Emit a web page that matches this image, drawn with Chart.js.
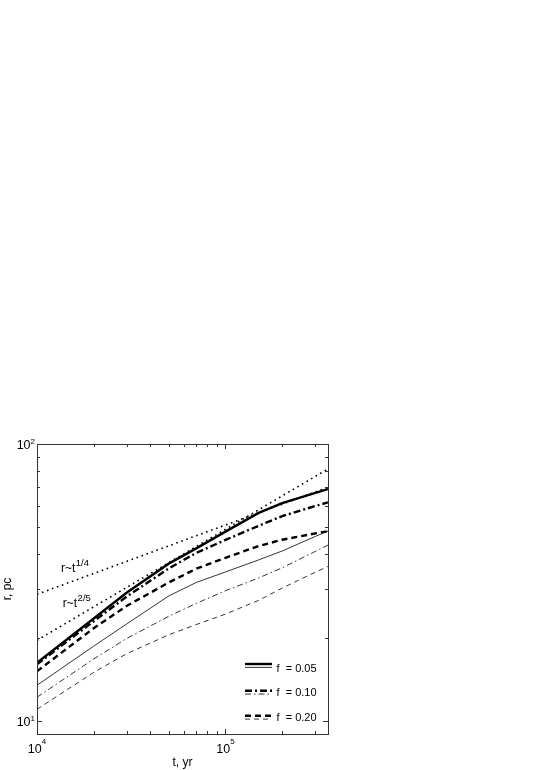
<!DOCTYPE html>
<html>
<head>
<meta charset="utf-8">
<script src="https://cdn.jsdelivr.net/npm/chart.js@4/dist/chart.umd.min.js"></script>
<style>
  body { margin: 0; background: #fff; }
  canvas { display: block; }
</style>
</head>
<body>
<canvas id="chart" width="545" height="770"></canvas>
<script>
// time grid, yr
const tYr = [1e4, 2e4, 3e4, 5e4, 7e4, 1e5, 1.5e5, 2e5, 3e5, 3.5e5];

// radius, pc (thick = upper group, thin = lower group)
const rThick005 = [16.26, 23.49, 29.15, 37.03, 42.03, 48.32, 56.44, 61.18, 66.66, 68.8];
const rThick010 = [16.06, 22.96, 28.21, 35.58, 40.48, 45.1, 50.7, 54.95, 59.77, 61.6];
const rThick020 = [15.15, 21.66, 26.09, 31.66, 35.49, 38.88, 42.85, 45.17, 47.6, 48.52];
const rThin005 = [13.49, 18.67, 22.47, 28.31, 31.67, 34.56, 38.19, 41.13, 46.43, 48.52];
const rThin010 = [12.21, 16.78, 19.92, 23.91, 26.62, 29.57, 32.89, 35.76, 41.01, 43.2];
const rThin020 = [11.05, 15.01, 17.55, 20.51, 22.33, 24.36, 27.3, 30.23, 34.5, 36.18];

// power-law guides
const tFit = [1e4, 3.5e5];
const rQuarter = [28.7, 69.8];
const rTwoFifths = [19.6, 81.3];

// axes: tick values and labels (base, exponent)
const xMajor = [1e4, 1e5];
const xTickExp = ['4', '5'];
const xMinor = [2e4, 3e4, 4e4, 5e4, 6e4, 7e4, 8e4, 9e4, 2e5, 3e5];
const yMajor = [10, 100];
const yTickExp = ['1', '2'];
const yMinor = [20, 30, 40, 50, 60, 70, 80, 90];

const legendLabels = ['f  = 0.05', 'f  = 0.10', 'f  = 0.20'];

// guide labels: anchor t, r
const guideNotes = [
  { t: 1.34e4, r: 34.5, exp: '1/4' },
  { t: 1.37e4, r: 25.8, exp: '2/5' }
];

const FONT = '"Liberation Sans", Arial, Helvetica, sans-serif';

function series(label, ts, rs, width, dash) {
  return {
    label: label,
    data: ts.map((t, i) => ({ x: t, y: rs[i] })),
    borderColor: '#000',
    borderWidth: width,
    borderDash: dash,
    borderCapStyle: 'butt',
    pointRadius: 0,
    fill: false,
    tension: 0
  };
}

const SOLID = [];
const DASHDOT_THICK = [7, 3, 2, 3];
const DASHDOT_THIN = [6, 3, 1.5, 3];
const DASH_THICK = [6, 4];
const DASH_THIN = [5, 4];
const DOTS = [1.6, 3.7];

const datasets = [
  series('r~t^1/4', tFit, rQuarter, 1.6, DOTS),
  series('r~t^2/5', tFit, rTwoFifths, 1.6, DOTS),
  series('f = 0.05 thick', tYr, rThick005, 2.4, SOLID),
  series('f = 0.10 thick', tYr, rThick010, 2.4, DASHDOT_THICK),
  series('f = 0.20 thick', tYr, rThick020, 2.4, DASH_THICK),
  series('f = 0.05 thin', tYr, rThin005, 0.8, SOLID),
  series('f = 0.10 thin', tYr, rThin010, 0.8, DASHDOT_THIN),
  series('f = 0.20 thin', tYr, rThin020, 0.8, DASH_THIN)
];

// draws "10" with a raised exponent
function powerLabel(ctx, base, exp, px, py, align, raise) {
  ctx.font = '12.5px ' + FONT;
  const wb = ctx.measureText(base).width;
  ctx.font = '8px ' + FONT;
  const we = ctx.measureText(exp).width;
  let left = align === 'center' ? px - (wb + we) / 2 : px - wb - we;
  ctx.font = '12.5px ' + FONT;
  ctx.fillText(base, left, py);
  ctx.font = '8px ' + FONT;
  ctx.fillText(exp, left + wb, py - raise);
}

// box with inward ticks on all four sides, tick labels, legend and guide notes
const frameAndNotes = {
  id: 'frameAndNotes',
  afterDraw(chart) {
    const { ctx, chartArea: a, scales: { x, y } } = chart;
    ctx.save();
    ctx.strokeStyle = '#333';
    ctx.lineWidth = 1;
    ctx.strokeRect(a.left + 0.5, a.top + 0.5, a.right - a.left, a.bottom - a.top);

    const tickX = (v, len) => {
      const px = Math.round(x.getPixelForValue(v)) + 0.5;
      ctx.beginPath();
      ctx.moveTo(px, a.bottom); ctx.lineTo(px, a.bottom - len);
      ctx.moveTo(px, a.top); ctx.lineTo(px, a.top + len);
      ctx.stroke();
    };
    const tickY = (v, len) => {
      const py = Math.round(y.getPixelForValue(v)) + 0.5;
      ctx.beginPath();
      ctx.moveTo(a.left, py); ctx.lineTo(a.left + len, py);
      ctx.moveTo(a.right, py); ctx.lineTo(a.right - len, py);
      ctx.stroke();
    };
    xMajor.forEach(v => tickX(v, 5));
    xMinor.forEach(v => tickX(v, 3));
    yMajor.forEach(v => tickY(v, 5));
    yMinor.forEach(v => tickY(v, 3));

    // tick labels
    ctx.fillStyle = '#000';
    ctx.textAlign = 'left';
    ctx.textBaseline = 'alphabetic';
    xMajor.forEach((v, i) => {
      powerLabel(ctx, '10', xTickExp[i], x.getPixelForValue(v), a.bottom + 18.5, 'center', 8.5);
    });
    yMajor.forEach((v, i) => {
      powerLabel(ctx, '10', yTickExp[i], a.left - 2, y.getPixelForValue(v) + 4.5, 'right', 5);
    });

    // legend
    const styles = [
      [SOLID, SOLID],
      [DASHDOT_THICK, DASHDOT_THIN],
      [DASH_THICK, DASH_THIN]
    ];
    const rowY = [a.bottom - 70, a.bottom - 43.3, a.bottom - 18.3];
    const textY = [a.bottom - 65, a.bottom - 40.7, a.bottom - 16.3];
    const x0 = a.right - 83, x1 = a.right - 56;
    ctx.strokeStyle = '#000';
    ctx.font = '11px ' + FONT;
    ctx.textBaseline = 'middle';
    rowY.forEach((yy, i) => {
      ctx.lineCap = 'butt';
      ctx.lineWidth = 2.4;
      ctx.setLineDash(styles[i][0]);
      ctx.beginPath(); ctx.moveTo(x0, yy); ctx.lineTo(x1, yy); ctx.stroke();
      ctx.lineWidth = 0.8;
      ctx.setLineDash(styles[i][1]);
      ctx.beginPath(); ctx.moveTo(x0, yy + 3.4); ctx.lineTo(x1, yy + 3.4); ctx.stroke();
      ctx.setLineDash([]);
      ctx.fillText(legendLabels[i], a.right - 51.5, textY[i]);
    });

    // guide notes r~t^n
    ctx.textBaseline = 'alphabetic';
    guideNotes.forEach(n => {
      const px = x.getPixelForValue(n.t);
      const py = y.getPixelForValue(n.r);
      ctx.font = '12px ' + FONT;
      ctx.fillText('r~t', px, py);
      const w = ctx.measureText('r~t').width;
      ctx.font = '9.5px ' + FONT;
      ctx.fillText(n.exp, px + w + 0.5, py - 6.5);
    });
    ctx.restore();
  }
};

new Chart(document.getElementById('chart'), {
  type: 'line',
  data: { datasets: datasets },
  options: {
    responsive: false,
    animation: false,
    layout: { padding: { top: 444, right: 217, left: 0, bottom: 0 } },
    plugins: {
      legend: { display: false },
      tooltip: { enabled: false }
    },
    scales: {
      x: {
        type: 'logarithmic',
        min: 1e4,
        max: 3.5e5,
        bounds: 'data',
        grid: { display: false, drawTicks: false },
        border: { display: false },
        afterBuildTicks: s => { s.ticks = xMajor.map(v => ({ value: v })); },
        afterFit: s => { s.height = 36; },
        ticks: { display: false },
        title: {
          display: true,
          text: 't, yr',
          color: '#000',
          font: { family: FONT, size: 12 },
          padding: { top: 0, bottom: 0 }
        }
      },
      y: {
        type: 'logarithmic',
        min: 9,
        max: 100,
        bounds: 'data',
        grid: { display: false, drawTicks: false },
        border: { display: false },
        afterBuildTicks: s => { s.ticks = yMajor.map(v => ({ value: v })); },
        afterFit: s => { s.width = 37; },
        ticks: { display: false },
        title: {
          display: true,
          text: 'r, pc',
          color: '#000',
          font: { family: FONT, size: 12 },
          padding: { top: 0, bottom: 0 }
        }
      }
    }
  },
  plugins: [frameAndNotes]
});
</script>
</body>
</html>
